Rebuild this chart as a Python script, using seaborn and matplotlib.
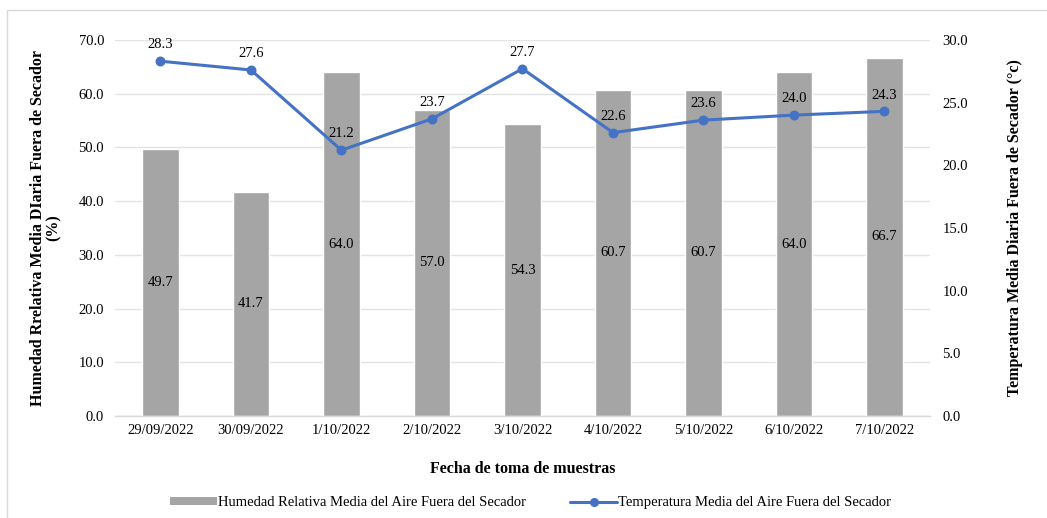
import numpy as np
import pandas as pd
import matplotlib
matplotlib.use("Agg")
import matplotlib.pyplot as plt
import seaborn as sns
from matplotlib.patches import Patch, Rectangle
from matplotlib.lines import Line2D

fechas = ["29/09/2022", "30/09/2022", "1/10/2022", "2/10/2022", "3/10/2022",
          "4/10/2022", "5/10/2022", "6/10/2022", "7/10/2022"]
humedad = [49.7, 41.7, 64.0, 57.0, 54.3, 60.7, 60.7, 64.0, 66.7]
temperatura = [28.3, 27.6, 21.2, 23.7, 27.7, 22.6, 23.6, 24.0, 24.3]

df = pd.DataFrame({"fecha": fechas, "humedad": humedad, "temperatura": temperatura})

sns.set_theme(style="white")
plt.rcParams["font.family"] = ["Liberation Serif", "DejaVu Serif"]
plt.rcParams["text.color"] = "black"
plt.rcParams["axes.labelcolor"] = "black"
plt.rcParams["xtick.color"] = "black"
plt.rcParams["ytick.color"] = "black"

BAR = "#A5A5A5"
LINE = "#4472C4"
GRID = "#E3E3E3"

fig = plt.figure(figsize=(10.47, 5.18), dpi=100)
ax = fig.add_axes([0.110, 0.197, 0.778, 0.726])

sns.barplot(data=df, x="fecha", y="humedad", color=BAR, width=0.4,
            saturation=1, ax=ax, zorder=2)
ax.set_ylim(0, 70)
ax.set_yticks(np.arange(0, 70.1, 10))
ax.set_yticklabels([f"{v:.1f}" for v in np.arange(0, 70.1, 10)], fontsize=10.5)
ax.tick_params(axis="x", labelsize=10.5, length=0, pad=6)
ax.tick_params(axis="y", length=0, pad=8)
ax.grid(axis="y", color=GRID, linewidth=1.0, zorder=0)
ax.set_axisbelow(True)
for s in ["top", "right", "left"]:
    ax.spines[s].set_visible(False)
ax.spines["bottom"].set_color("#D9D9D9")
ax.spines["bottom"].set_linewidth(1.0)
ax.set_xlabel("Fecha de toma de muestras", fontsize=11.5, fontweight="bold", labelpad=17)
ax.set_ylabel("Humedad Rrelativa Media DIaria Fuera de Secador\n(%)", fontsize=11.5,
              fontweight="bold", labelpad=12, linespacing=1.0)

for i, v in enumerate(humedad):
    ax.text(i, v / 2, f"{v:.1f}", ha="center", va="center", fontsize=10.5, color="black")

ax2 = ax.twinx()
sns.pointplot(data=df, x="fecha", y="temperatura", color=LINE, markers="o",
              linestyles="-", ax=ax2, markersize=5.5, linewidth=2.2)
ax2.set_ylim(0, 30)
ax2.set_yticks(np.arange(0, 30.1, 5))
ax2.set_yticklabels([f"{v:.1f}" for v in np.arange(0, 30.1, 5)], fontsize=10.5)
ax2.tick_params(axis="y", length=0, pad=9)
ax2.grid(False)
for s in ["top", "right", "left", "bottom"]:
    ax2.spines[s].set_visible(False)
ax2.set_ylabel("Temperatura Media Diaria Fuera de Secador (°c)", fontsize=11.5,
               fontweight="bold", labelpad=28)
ax2.set_xlim(-0.5, len(fechas) - 0.5)

for i, v in enumerate(temperatura):
    ax2.annotate(f"{v:.1f}", (i, v), xytext=(0, 7), textcoords="offset points",
                 ha="center", va="bottom", fontsize=10.5, color="black")

handles = [Patch(facecolor=BAR, edgecolor="none"),
           Line2D([0], [0], color=LINE, lw=2.2, marker="o", markersize=5.5)]
labels = ["Humedad Relativa Media del Aire Fuera del Secador",
          "Temperatura Media del Aire Fuera del Secador"]
fig.legend(handles, labels, loc="center", bbox_to_anchor=(0.507, 0.029), ncol=2,
           frameon=False, fontsize=10.5, handlelength=3.2, handleheight=0.5,
           handletextpad=0.1, columnspacing=3.0)

fig.patches.append(Rectangle((0.0067, -0.2), 1.2, 1.181, transform=fig.transFigure,
                             fill=False, edgecolor="#D9D9D9", linewidth=1.0))

fig.savefig("out.png", dpi=100)
